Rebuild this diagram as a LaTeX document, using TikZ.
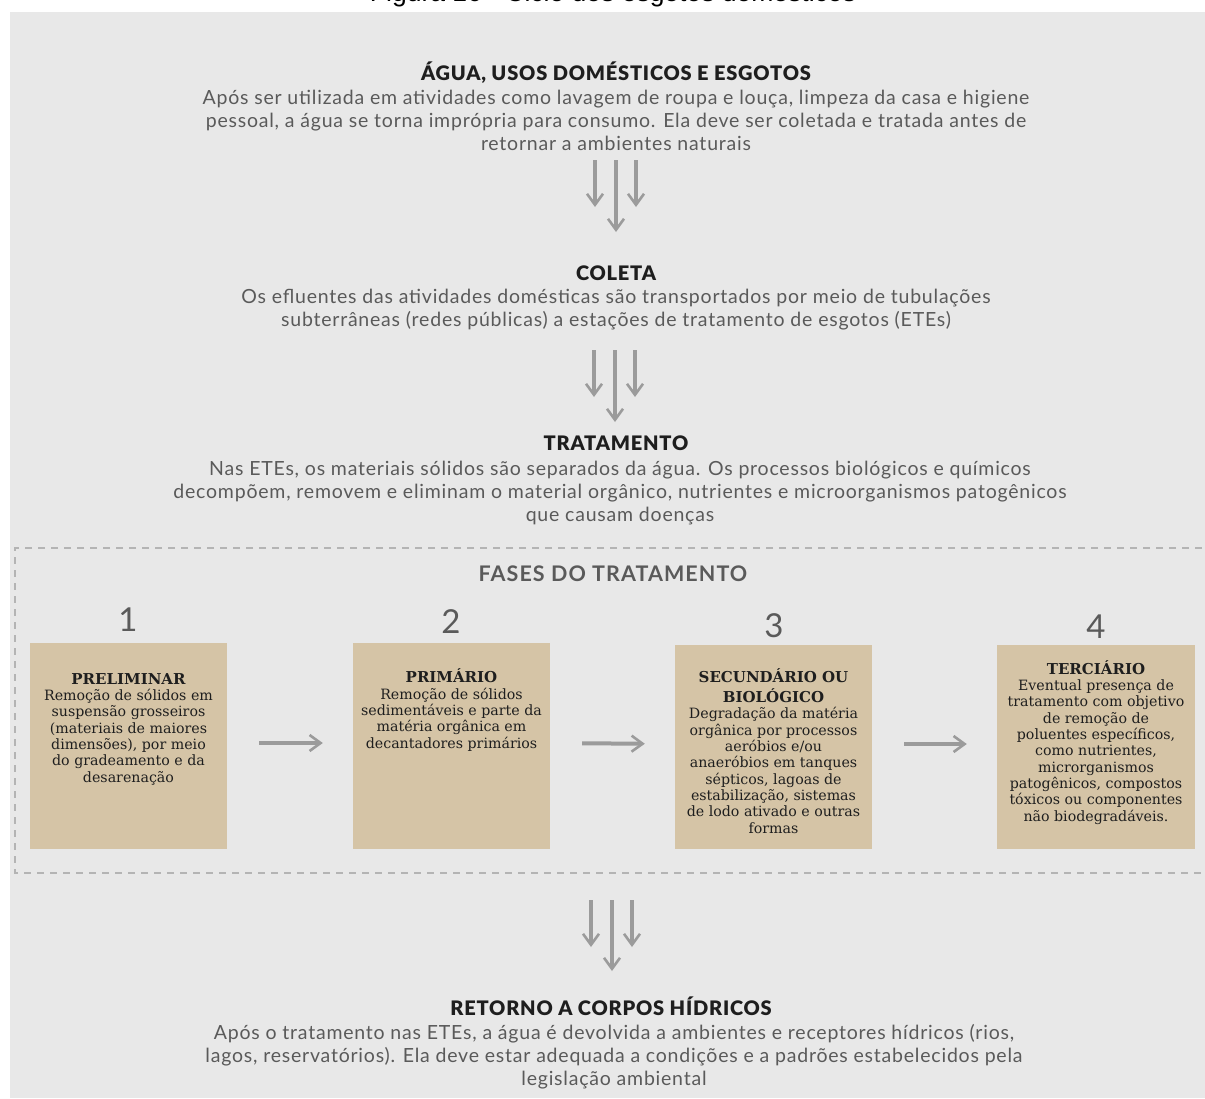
\documentclass[tikz,border=0pt]{standalone}
\usepackage{fontspec}
\setmainfont{Lato}
\newfontfamily\bodyfont{Lato}[LetterSpace=4]
\newfontfamily\headfont{Lato Black}[LetterSpace=4]
\newfontfamily\fasefont{Lato}[LetterSpace=5]
\newfontfamily\slabfont{DejaVu Serif}
\newfontfamily\capfont{Liberation Sans}
\usetikzlibrary{arrows.meta}

\definecolor{panel}{HTML}{E8E8E8}
\definecolor{sand}{HTML}{D5C4A6}
\definecolor{ink}{HTML}{1E1E1E}
\definecolor{soft}{HTML}{5A5A5A}
\definecolor{pipe}{HTML}{9B9B9B}
\definecolor{frameline}{HTML}{B4B4B4}

\newcommand{\phasehead}{\slabfont\fontsize{15}{16.3}\selectfont\bfseries}

\tikzset{
  heading/.style={inner sep=0pt, anchor=base, text=ink, font=\headfont\fontsize{20}{23}\selectfont},
  textblock/.style={inner sep=0pt, anchor=base, align=center, text=soft, font=\bodyfont\fontsize{19.5}{23}\selectfont},
  phasebox/.style={fill=sand, minimum width=197pt, minimum height=206pt, inner sep=0pt},
  phasetext/.style={inner sep=0pt, anchor=base, align=center, text=ink, font=\slabfont\fontsize{14.2}{16.3}\selectfont},
  number/.style={inner sep=0pt, anchor=base, text=soft, font=\fontsize{33}{33}\selectfont},
  droparrow/.style={draw=pipe, line width=4.5pt, -{Straight Barb[length=11pt,width=16pt,line width=2.6pt]}},
  flow/.style={droparrow, line width=4pt, shorten <=32pt, shorten >=30pt},
}

\begin{document}
\begin{tikzpicture}[x=1pt, y=-1pt]
  \useasboundingbox (0,0) rectangle (1205,1098);
  \clip (0,0) rectangle (1205,1098);

  \node[inner sep=0pt, anchor=base, font=\capfont\fontsize{26.5}{26.5}\selectfont] (caption) at (613,1) {Figura 16 - Ciclo dos esgotos domésticos};
  \fill[panel] (10,12) rectangle (1205,1098);

  \node[heading] (agua) at (616,80) {ÁGUA, USOS DOMÉSTICOS E ESGOTOS};
  \node[textblock] (aguatxt) at (616,150) {Após ser utilizada em atividades como lavagem de roupa e louça, limpeza da casa e higiene\\
    pessoal, a água se torna imprópria para consumo. Ela deve ser coletada e tratada antes de\\
    retornar a ambientes naturais};

  \node[heading] (coleta) at (616,280) {COLETA};
  \node[textblock] (coletatxt) at (616,326) {Os efluentes das atividades domésticas são transportados por meio de tubulações\\
    subterrâneas (redes públicas) a estações de tratamento de esgotos (ETEs)};

  \node[heading] (tratamento) at (616,450) {TRATAMENTO};
  \node[textblock] (tratamentotxt) at (620,521) {Nas ETEs, os materiais sólidos são separados da água. Os processos biológicos e químicos\\
    decompõem, removem e eliminam o material orgânico, nutrientes e microorganismos patogênicos\\
    que causam doenças};

  \draw[frameline, line width=1.3pt, dash pattern=on 7pt off 6pt] (1215,548) -- (15,548) -- (15,873) -- (1215,873);
  \node[heading, text=soft, font=\fasefont\fontsize{21.5}{23}\selectfont\bfseries] (fases) at (613,581) {FASES DO TRATAMENTO};

  \node[number] (n1) at (128,631) {1};
  \node[number] (n2) at (451,633) {2};
  \node[number] (n3) at (774,637) {3};
  \node[number] (n4) at (1096,638) {4};

  \node[phasebox] (box1) at (128.5,746) {};
  \node[phasebox] (box2) at (451.5,746) {};
  \node[phasebox, minimum height=204pt] (box3) at (773.5,747) {};
  \node[phasebox, minimum height=204pt, minimum width=198pt] (box4) at (1096,747) {};

  \node[phasetext] (prelim) at (128.5,782) {{\phasehead PRELIMINAR}\\
    Remoção de sólidos em\\ suspensão grosseiros\\ (materiais de maiores\\
    dimensões), por meio\\ do gradeamento e da\\ desarenação};
  \node[phasetext] (prim) at (451.5,748) {{\phasehead PRIMÁRIO}\\
    Remoção de sólidos\\ sedimentáveis e parte da\\ matéria orgânica em\\ decantadores primários};
  \node[phasetext] (secund) at (773.5,833) {{\phasehead SECUNDÁRIO OU}\\[3.5pt]
    {\phasehead BIOLÓGICO}\\
    Degradação da matéria\\ orgânica por processos\\ aeróbios e/ou\\ anaeróbios em tanques\\
    sépticos, lagoas de\\ estabilização, sistemas\\ de lodo ativado e outras\\ formas};
  \node[phasetext] (terc) at (1096,821) {{\phasehead TERCIÁRIO}\\
    Eventual presença de\\ tratamento com objetivo\\ de remoção de\\ poluentes específicos,\\
    como nutrientes,\\ microrganismos\\ patogênicos, compostos\\ tóxicos ou componentes\\ não biodegradáveis.};

  \draw[flow] ([yshift=3pt]box1.east) -- ([yshift=3pt]box2.west);
  \draw[flow] ([yshift=3pt]box2.east) -- ([yshift=3pt]box3.west);
  \draw[flow] ([yshift=3pt]box3.east) -- ([yshift=3pt]box4.west);

  \node[heading] (retorno) at (611,1015) {RETORNO A CORPOS HÍDRICOS};
  \node[textblock] (retornotxt) at (614,1085) {Após o tratamento nas ETEs, a água é devolvida a ambientes e receptores hídricos (rios,\\
    lagos, reservatórios). Ela deve estar adequada a condições e a padrões estabelecidos pela\\
    legislação ambiental};

  \coordinate (a1) at (595,160);  \coordinate (a1end) at (595,207);
  \coordinate (a2) at (616,160);  \coordinate (a2end) at (616,232);
  \coordinate (a3) at (636,160);  \coordinate (a3end) at (636,207);
  \coordinate (b1) at (594,350);  \coordinate (b1end) at (594,397);
  \coordinate (b2) at (615,350);  \coordinate (b2end) at (615,422);
  \coordinate (b3) at (635,350);  \coordinate (b3end) at (635,397);
  \coordinate (c1) at (591,900);  \coordinate (c1end) at (591,947);
  \coordinate (c2) at (612,900);  \coordinate (c2end) at (612,971);
  \coordinate (c3) at (632,900);  \coordinate (c3end) at (632,947);

  \draw[droparrow] (a1) -- (a1end);
  \draw[droparrow] (a2) -- (a2end);
  \draw[droparrow] (a3) -- (a3end);
  \draw[droparrow] (b1) -- (b1end);
  \draw[droparrow] (b2) -- (b2end);
  \draw[droparrow] (b3) -- (b3end);
  \draw[droparrow] (c1) -- (c1end);
  \draw[droparrow] (c2) -- (c2end);
  \draw[droparrow] (c3) -- (c3end);
\end{tikzpicture}
\end{document}
